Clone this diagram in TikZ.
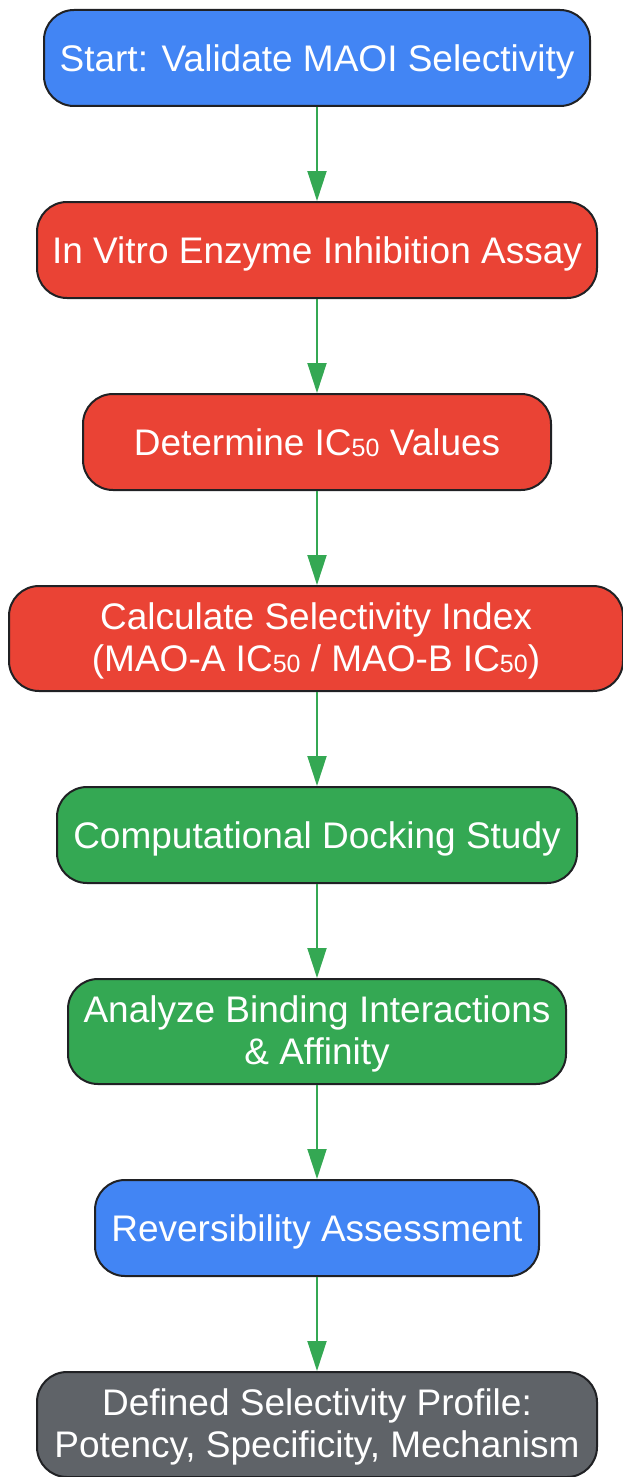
\documentclass[tikz,border=0pt]{standalone}
\usepackage{fontspec}
\setmainfont{Liberation Sans}
\usetikzlibrary{arrows.meta}
\definecolor{cblue}{HTML}{4285F4}
\definecolor{cred}{HTML}{EA4335}
\definecolor{cgreen}{HTML}{34A853}
\definecolor{cgray}{HTML}{5F6368}
\definecolor{cedge}{HTML}{202124}
\newcommand{\subn}[1]{\raisebox{-1.5pt}{\fontsize{25}{25}\selectfont #1}}
\tikzset{
  flowbox/.style={draw=cedge, line width=2pt, rounded corners=30pt, text=white,
    align=center, font=\fontsize{37}{42}\selectfont, inner sep=0pt, text depth=0pt},
  twoline/.style={text height=65pt},
  flowarrow/.style={draw=cgreen, line width=2pt,
    -{Triangle[length=30pt,width=19pt]}},
}
\begin{document}
\begin{tikzpicture}[x=1pt,y=1pt]
\useasboundingbox (0,0) rectangle (622,-1477);
\node[flowbox, fill=cblue, minimum width=546pt, minimum height=96pt] (n1) at (317,-58) {Start: Validate MAOI Selectivity};
\node[flowbox, fill=cred, minimum width=560pt, minimum height=96pt] (n2) at (317,-250) {In Vitro Enzyme Inhibition Assay};
\node[flowbox, fill=cred, minimum width=468pt, minimum height=96pt] (n3) at (317,-442) {Determine IC\subn{50} Values};
\node[flowbox, twoline, fill=cred, minimum width=614pt, minimum height=105pt] (n4) at (316,-638.5) {Calculate Selectivity Index\\(MAO-A IC\subn{50} / MAO-B IC\subn{50})};
\node[flowbox, fill=cgreen, minimum width=520pt, minimum height=96pt] (n5) at (317,-835) {Computational Docking Study};
\node[flowbox, twoline, fill=cgreen, minimum width=498pt, minimum height=105pt] (n6) at (317,-1031.5) {Analyze Binding Interactions\\\& Affinity};
\node[flowbox, fill=cblue, minimum width=444pt, minimum height=96pt] (n7) at (317,-1228) {Reversibility Assessment};
\node[flowbox, twoline, fill=cgray, minimum width=560pt, minimum height=105pt] (n8) at (317,-1424.5) {Defined Selectivity Profile:\\Potency, Specificity, Mechanism};
\draw[flowarrow] (n1.south -| 317,0) -- (n2.north -| 317,0);
\draw[flowarrow] (n2) -- (n3);
\draw[flowarrow] (n3) -- (n4.north -| 317,0);
\draw[flowarrow] (n4.south -| 317,0) -- (n5);
\draw[flowarrow] (n5) -- (n6);
\draw[flowarrow] (n6) -- (n7);
\draw[flowarrow] (n7) -- (n8);
\end{tikzpicture}
\end{document}
